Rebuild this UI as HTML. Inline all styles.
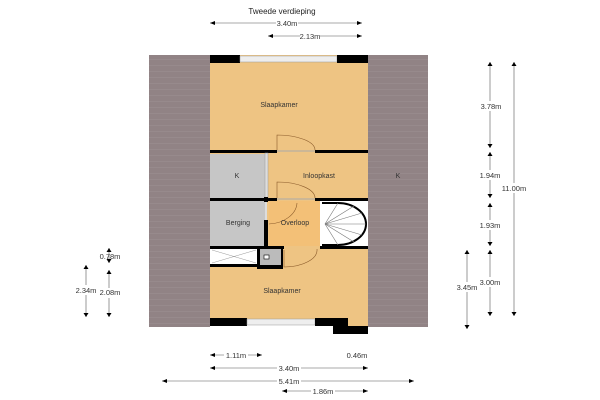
<!DOCTYPE html>
<html><head><meta charset="utf-8"><style>
html,body{margin:0;padding:0;background:#fff;}
svg{display:block;font-family:"Liberation Sans",sans-serif;}
</style></head><body>
<svg width="600" height="400" viewBox="0 0 600 400" xmlns="http://www.w3.org/2000/svg">
<defs>
<pattern id="roof" width="6" height="6" patternUnits="userSpaceOnUse">
<rect width="6" height="6" fill="#918385"/><line x1="0" y1="5.5" x2="6" y2="5.5" stroke="#9d9194" stroke-width="0.5"/>
</pattern>
</defs>
<text x="282" y="14" font-size="8" text-anchor="middle" fill="#222">Tweede verdieping</text>
<rect x="149" y="55" width="61" height="272" fill="url(#roof)"/>
<rect x="368" y="55" width="60" height="272" fill="url(#roof)"/>
<rect x="210" y="55" width="158" height="270" fill="#eec483"/>
<rect x="348" y="318" width="20" height="8" fill="#eec483"/>
<rect x="210" y="55" width="30" height="8" fill="#000"/>
<rect x="240" y="56" width="97" height="6" fill="#eee" stroke="#999" stroke-width="0.5"/>
<rect x="337" y="55" width="31" height="8" fill="#000"/>
<rect x="210" y="154" width="55" height="46" fill="#c6c6c6"/>
<rect x="210" y="201" width="55" height="45" fill="#c6c6c6"/>
<rect x="269" y="201" width="51" height="45" fill="#f3c077"/>
<rect x="320" y="201" width="48" height="45" fill="#fff"/>
<path d="M322 203 L338 203 A28 21 0 0 1 338 245 L322 245" fill="none" stroke="#000" stroke-width="2"/>
<g stroke="#777" stroke-width="0.6">
<line x1="325" y1="224" x2="338" y2="203"/><line x1="325" y1="224" x2="354" y2="206"/><line x1="325" y1="224" x2="362" y2="213"/><line x1="325" y1="224" x2="366" y2="224"/><line x1="325" y1="224" x2="362" y2="235"/><line x1="325" y1="224" x2="354" y2="242"/><line x1="325" y1="224" x2="338" y2="245"/>
</g>
<rect x="210" y="150" width="67" height="3" fill="#000"/>
<rect x="315" y="150" width="53" height="3" fill="#000"/>
<rect x="210" y="198" width="67" height="3" fill="#000"/>
<rect x="315" y="198" width="53" height="3" fill="#000"/>
<rect x="265" y="153" width="3" height="45" fill="#ddd" stroke="#999" stroke-width="0.5"/>
<rect x="264" y="197" width="4" height="5" fill="#000"/>
<rect x="264" y="220" width="4" height="29" fill="#000"/>
<rect x="265" y="202" width="2" height="18" fill="#ddd"/>
<rect x="210" y="246" width="74" height="3" fill="#000"/>
<rect x="320" y="246" width="48" height="3" fill="#000"/>
<rect x="210" y="249" width="48" height="15" fill="#fff"/>
<line x1="212" y1="250" x2="256" y2="263" stroke="#999" stroke-width="0.5"/><line x1="212" y1="263" x2="256" y2="250" stroke="#999" stroke-width="0.5"/>
<rect x="210" y="264" width="48" height="3" fill="#000"/>
<rect x="257" y="249" width="26" height="20" fill="#000"/>
<rect x="260" y="249" width="21" height="16" fill="#bbb"/>
<rect x="264" y="255" width="5" height="4" fill="#fff" stroke="#000" stroke-width="0.6"/>
<g fill="none" stroke="#8a5a2a" stroke-width="0.6">
<path d="M277 150 L277 135 A38 15 0 0 1 315 150"/>
<path d="M277 198 L277 182 A38 16 0 0 1 315 198"/>
<path d="M269 224 A30 22 0 0 0 297 203"/>
<path d="M284 250 L284 267 A33 17 0 0 0 317 249"/>
</g>
<line x1="277" y1="151" x2="315" y2="151" stroke="#aaa"/>
<line x1="277" y1="199" x2="315" y2="199" stroke="#aaa"/>
<rect x="210" y="318" width="37" height="8" fill="#000"/>
<rect x="247" y="319" width="68" height="6" fill="#eee" stroke="#999" stroke-width="0.5"/>
<rect x="315" y="318" width="33" height="8" fill="#000"/>
<rect x="333" y="326" width="35" height="8" fill="#000"/>
<g font-size="7" fill="#333" text-anchor="middle">
<text x="279" y="107">Slaapkamer</text>
<text x="237" y="178">K</text>
<text x="319" y="178">Inloopkast</text>
<text x="238" y="225">Berging</text>
<text x="295" y="225">Overloop</text>
<text x="282" y="293">Slaapkamer</text>
<text x="398" y="178">K</text>
</g>
<g stroke="#555" stroke-width="0.6" fill="none">
<line x1="210" y1="23" x2="362" y2="23"/><line x1="268" y1="36" x2="362" y2="36"/>
<line x1="490" y1="62" x2="490" y2="148"/><line x1="490" y1="152" x2="490" y2="198"/><line x1="490" y1="203" x2="490" y2="246"/><line x1="490" y1="250" x2="490" y2="316"/>
<line x1="514" y1="62" x2="514" y2="316"/><line x1="467" y1="250" x2="467" y2="329"/>
<line x1="109" y1="248" x2="109" y2="263"/><line x1="109" y1="270" x2="109" y2="317"/><line x1="86" y1="265" x2="86" y2="317"/>
<line x1="210" y1="355" x2="262" y2="355"/><line x1="210" y1="368" x2="368" y2="368"/><line x1="162" y1="381" x2="414" y2="381"/><line x1="282" y1="391" x2="368" y2="391"/>
</g>
<g fill="#000">
<path d="M210 23 l5 -2 v4z M362 23 l-5 -2 v4z M268 36 l5 -2 v4z M362 36 l-5 -2 v4z"/>
<path d="M210 355 l5 -2 v4z M262 355 l-5 -2 v4z M210 368 l5 -2 v4z M368 368 l-5 -2 v4z M162 381 l5 -2 v4z M414 381 l-5 -2 v4z M282 391 l5 -2 v4z M368 391 l-5 -2 v4z"/>
<path d="M490 62 l-2.5 4 h5z M490 148 l-2.5 -4 h5z M490 152 l-2.5 4 h5z M490 198 l-2.5 -4 h5z M490 203 l-2.5 4 h5z M490 246 l-2.5 -4 h5z M490 250 l-2.5 4 h5z M490 316 l-2.5 -4 h5z"/>
<path d="M514 62 l-2.5 4 h5z M514 316 l-2.5 -4 h5z M467 250 l-2.5 4 h5z M467 329 l-2.5 -4 h5z"/>
<path d="M109 248 l-2.5 4 h5z M109 263 l-2.5 -4 h5z M109 270 l-2.5 4 h5z M109 317 l-2.5 -4 h5z M86 265 l-2.5 4 h5z M86 317 l-2.5 -4 h5z"/>
</g>
<g font-size="7.5" fill="#333" text-anchor="middle">
<rect x="276" y="17" width="22" height="10" fill="#fff"/><text x="287" y="26">3.40m</text>
<rect x="300" y="30" width="20" height="10" fill="#fff"/><text x="310" y="39">2.13m</text>
<rect x="478" y="101" width="24" height="10" fill="#fff"/><text x="491" y="109">3.78m</text>
<rect x="478" y="170" width="24" height="10" fill="#fff"/><text x="490" y="178">1.94m</text>
<rect x="478" y="220" width="24" height="10" fill="#fff"/><text x="490" y="228">1.93m</text>
<rect x="478" y="277" width="24" height="10" fill="#fff"/><text x="490" y="285">3.00m</text>
<rect x="500" y="183" width="28" height="10" fill="#fff"/><text x="514" y="191">11.00m</text>
<rect x="455" y="282" width="24" height="10" fill="#fff"/><text x="467" y="290">3.45m</text>
<text x="110" y="259">0.78m</text>
<rect x="98" y="288" width="24" height="10" fill="#fff"/><text x="110" y="295">2.08m</text>
<rect x="74" y="285" width="24" height="10" fill="#fff"/><text x="86" y="293">2.34m</text>
<rect x="224" y="350" width="24" height="10" fill="#fff"/><text x="236" y="358">1.11m</text>
<text x="357" y="358">0.46m</text>
<rect x="277" y="363" width="24" height="10" fill="#fff"/><text x="289" y="371">3.40m</text>
<rect x="277" y="376" width="24" height="10" fill="#fff"/><text x="289" y="384">5.41m</text>
<rect x="311" y="386" width="24" height="10" fill="#fff"/><text x="323" y="394">1.86m</text>
</g>
</svg>
</body></html>
